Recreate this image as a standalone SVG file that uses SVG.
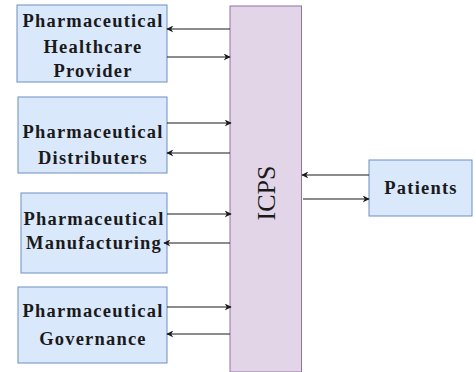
<svg xmlns="http://www.w3.org/2000/svg" width="476" height="372" viewBox="0 0 476 372">
<style>
.box{fill:#dae8fc;stroke:#6c8ebf;stroke-width:1}
.icps{fill:#e1d5e7;stroke:#9673a6;stroke-width:1}
.lbl{font-family:"Liberation Serif",serif;font-weight:bold;font-size:18.5px;letter-spacing:1.2px;fill:#1a1a1a;text-anchor:middle}
.conn line{stroke:#1a1a1a;stroke-width:1.2;marker-end:url(#ah)}
</style>
<defs>
<marker id="ah" viewBox="0 0 10 10" refX="9" refY="5" markerWidth="7" markerHeight="7" markerUnits="userSpaceOnUse" orient="auto">
<path d="M0,0 L10,5 L0,10 L3,5 Z" fill="#1a1a1a"/>
</marker>
</defs>
<rect width="476" height="372" fill="#ffffff"/>
<g id="icps">
<rect class="icps" x="230" y="6" width="71.5" height="366"/>
<text x="0" y="0" transform="translate(275,193) rotate(-90)" font-family="Liberation Serif,serif" font-size="26" fill="#1a1a1a" text-anchor="middle">ICPS</text>
</g>
<g id="provider">
<rect class="box" x="17" y="5" width="150" height="77"/>
<text class="lbl" x="93" y="27">Pharmaceutical</text>
<text class="lbl" x="93" y="53">Healthcare</text>
<text class="lbl" x="93" y="77">Provider</text>
</g>
<g id="distributers">
<rect class="box" x="18" y="97" width="149" height="76"/>
<text class="lbl" x="93" y="138">Pharmaceutical</text>
<text class="lbl" x="93" y="164">Distributers</text>
</g>
<g id="manufacturing">
<rect class="box" x="21" y="193" width="146" height="80"/>
<text class="lbl" x="94" y="225">Pharmaceutical</text>
<text class="lbl" x="94" y="249">Manufacturing</text>
</g>
<g id="governance">
<rect class="box" x="18" y="287" width="149" height="76"/>
<text class="lbl" x="93" y="317">Pharmaceutical</text>
<text class="lbl" x="93" y="345">Governance</text>
</g>
<g id="patients">
<rect class="box" x="369" y="160" width="103" height="56"/>
<text class="lbl" x="421" y="194">Patients</text>
</g>
<g class="conn" id="connectors">
<line x1="230" y1="29" x2="167" y2="29"/>
<line x1="167" y1="57" x2="230" y2="57"/>
<line x1="167" y1="123" x2="231" y2="123"/>
<line x1="230" y1="153" x2="167" y2="153"/>
<line x1="167" y1="214" x2="231" y2="214"/>
<line x1="230" y1="243" x2="164" y2="243"/>
<line x1="167" y1="307" x2="231" y2="307"/>
<line x1="230" y1="334" x2="167" y2="334"/>
<line x1="369" y1="175" x2="302" y2="175"/>
<line x1="303" y1="199" x2="369" y2="199"/>
</g>
</svg>
